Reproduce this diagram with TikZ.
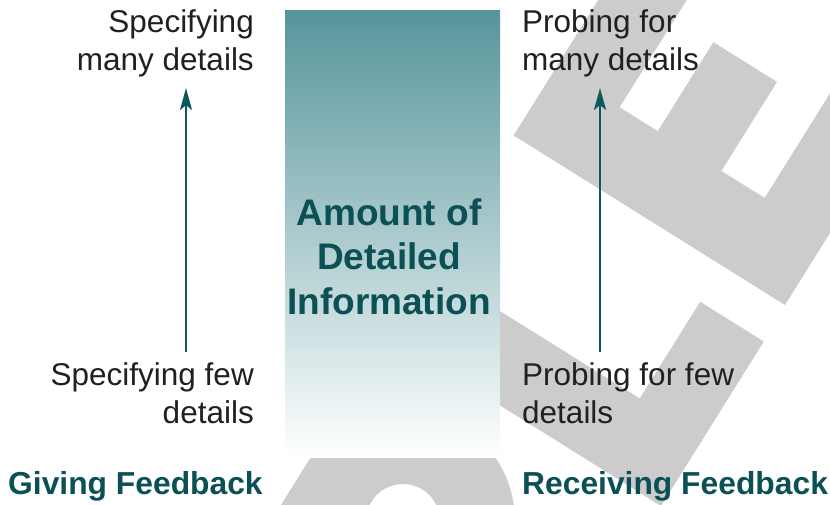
\documentclass[tikz,border=0pt]{standalone}
\usepackage{fontspec}
\setmainfont{Liberation Sans}
\usetikzlibrary{arrows.meta}

\definecolor{morski}{RGB}{11,80,84}
\definecolor{strzalka}{RGB}{14,88,92}
\definecolor{tekst}{RGB}{35,31,32}
\definecolor{znak}{RGB}{204,204,204}
\definecolor{pasek}{RGB}{86,149,155}

\begin{document}
\begin{tikzpicture}[x=1pt, y=1pt,
    opis/.style={font=\fontsize{31.5}{38}\selectfont, text=tekst, inner sep=0pt},
    naglowek/.style={font=\fontsize{31.8}{38}\selectfont\bfseries, text=morski, inner sep=0pt},
    srodek/.style={font=\fontsize{37}{44.5}\selectfont\bfseries, text=morski, inner sep=0pt, align=center},
    strz/.style={strzalka, line width=2.5pt, -{Stealth[length=22pt, width=12pt, inset=5pt]}}]
    \useasboundingbox (0,0) rectangle (830,-504);

    % Znak wodny w tle - litery P, L, E obrocone o 58 stopni
    \begin{scope}
        \clip (0,0) rectangle (830,-504);
        \begin{scope}[shift={(403,-521)}, rotate=58]
            \fill[znak, even odd rule]
                (-300,112) -- (0,112) arc[start angle=90, end angle=-90, radius=112] -- (-300,-112) -- cycle
                (-120,37) -- (0,37) arc[start angle=90, end angle=-90, radius=37] -- (-120,-37) -- cycle;
        \end{scope}
        \begin{scope}[shift={(661,-506)}, rotate=58]
            \fill[znak] (0,0) -- (194,0) -- (194,75) -- (80,75) -- (80,320) -- (0,320) -- cycle;
        \end{scope}
        \begin{scope}[shift={(785,-305)}, rotate=58]
            \fill[znak] (0,0) -- (230,0) -- (230,74) -- (80,74) -- (80,125) -- (185,125)
                -- (185,200) -- (80,200) -- (80,245) -- (230,245) -- (230,320) -- (0,320) -- cycle;
        \end{scope}
    \end{scope}

    % Kolumna z gradientem
    \node[top color=pasek, bottom color=white, inner sep=0pt, minimum width=215pt, minimum height=447pt]
        (kolumna) at (392.5,-233.5) {};
    \node[srodek, anchor=base] (ilosc) at (389,-314) {Amount of\\Detailed\\Information};

    % Opisy po obu stronach (baza = ostatnia linia)
    \node[opis, align=right, anchor=base east] (dajDuzo) at (254,-70) {Specifying\\many details};
    \node[opis, align=right, anchor=base east] (dajMalo) at (254,-423) {Specifying few\\details};
    \node[opis, align=left, anchor=base west] (pytDuzo) at (522,-70) {Probing for\\many details};
    \node[opis, align=left, anchor=base west] (pytMalo) at (522,-423) {Probing for few\\details};
    \node[naglowek, anchor=base west] (dawanie) at (8,-494) {Giving Feedback};
    \node[naglowek, anchor=base west] (odbieranie) at (522,-494) {Receiving Feedback};

    % Strzalki - od malo do duzo szczegolow
    \foreach \x/\n in {186/daj, 600/pyt} {
        \coordinate (\n Dol) at (\x,-352);
        \coordinate (\n Gora) at (\x,-88);
        \draw[strz] (\n Dol) -- (\n Gora);
    }
\end{tikzpicture}
\end{document}
